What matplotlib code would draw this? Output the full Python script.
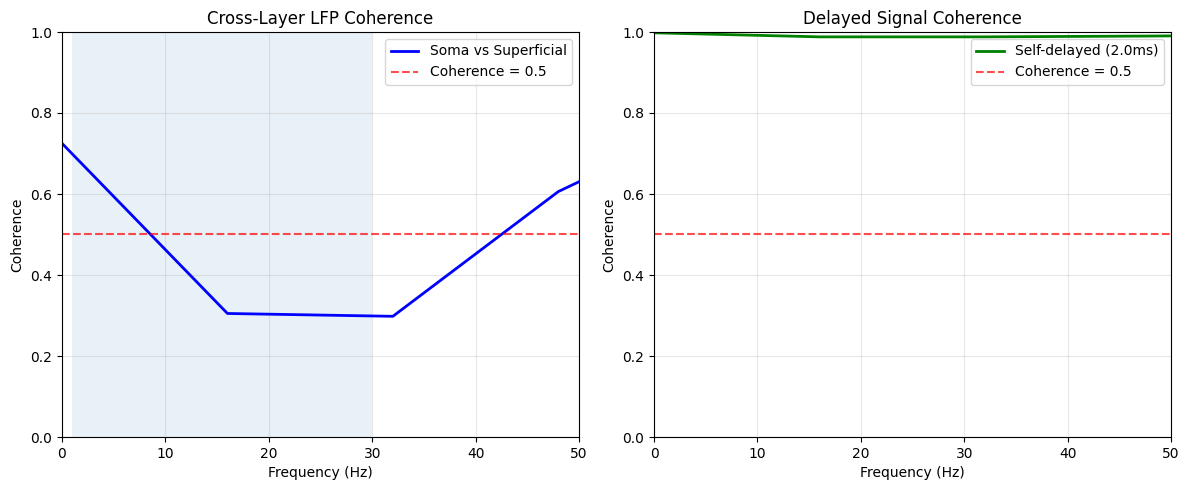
import matplotlib
matplotlib.use("Agg")
import matplotlib.pyplot as plt

freqs = [0, 16, 32, 48, 64]
coh_cross = [0.725, 0.305, 0.298, 0.606, 0.80]
coh_delay = [0.998, 0.988, 0.988, 0.990, 0.993]
threshold = 0.5

fig, axes = plt.subplots(1, 2, figsize=(11.89, 4.9), dpi=100)

ax = axes[0]
ax.axvspan(1, 30, color='C0', alpha=0.1, lw=0)
ax.plot(freqs, coh_cross, color='blue', lw=2, label='Soma vs Superficial')
ax.axhline(threshold, color='red', ls='--', alpha=0.7, label='Coherence = 0.5')
ax.set_xlim(0, 50)
ax.set_ylim(0, 1)
ax.set_xlabel('Frequency (Hz)')
ax.set_ylabel('Coherence')
ax.set_title('Cross-Layer LFP Coherence')
ax.grid(True, alpha=0.3)
ax.legend(loc='upper right')

ax = axes[1]
ax.plot(freqs, coh_delay, color='green', lw=2, label='Self-delayed (2.0ms)')
ax.axhline(threshold, color='red', ls='--', alpha=0.7, label='Coherence = 0.5')
ax.set_xlim(0, 50)
ax.set_ylim(0, 1)
ax.set_xlabel('Frequency (Hz)')
ax.set_ylabel('Coherence')
ax.set_title('Delayed Signal Coherence')
ax.grid(True, alpha=0.3)
ax.legend(loc='upper right')

fig.subplots_adjust(left=62/1189, right=1171/1189, top=1-32/490, bottom=1-437/490,
                    wspace=75/517)
fig.savefig('out.png', dpi=100)
